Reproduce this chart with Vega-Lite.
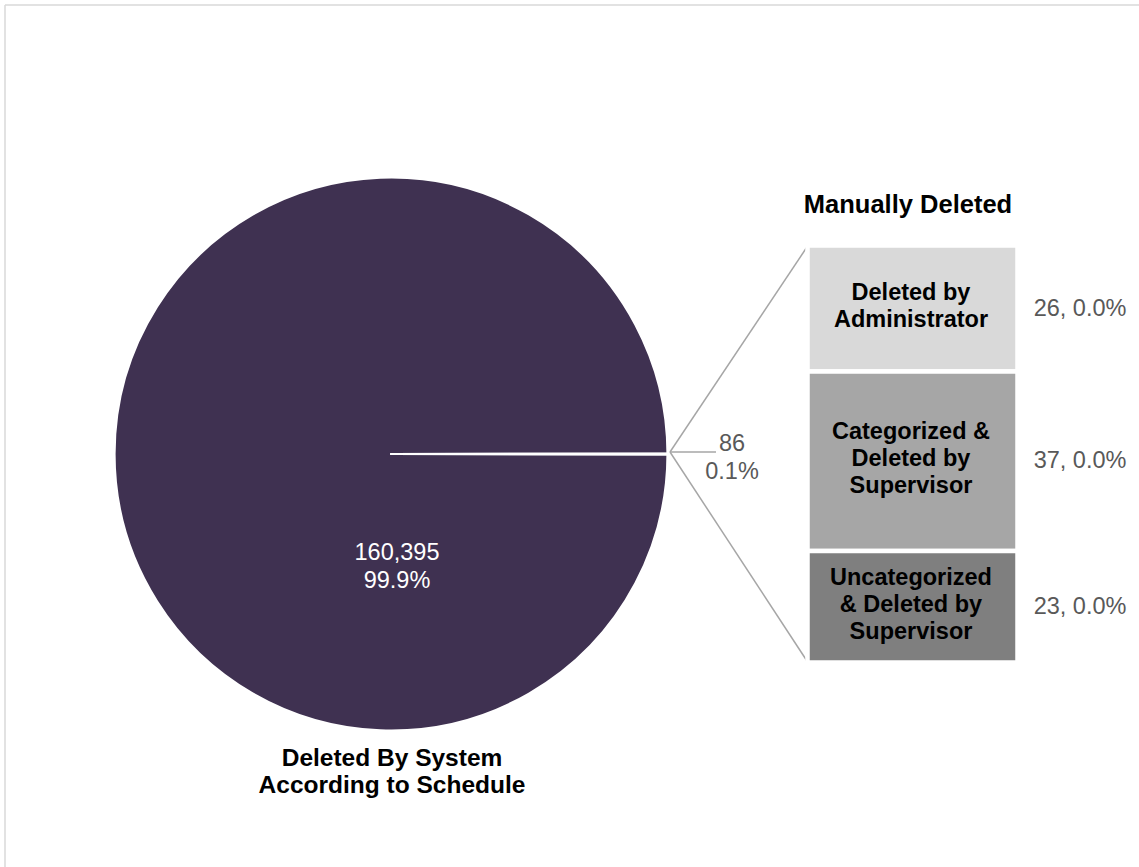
{
  "$schema": "https://vega.github.io/schema/vega-lite/v6.json",
  "width": 1139,
  "height": 867,
  "autosize": "none",
  "padding": 0,
  "background": "white",
  "config": {"view": {"stroke": null}, "font": "Liberation Sans"},
  "resolve": {"scale": {"color": "independent"}},
  "layer": [
    {
      "data": {"values": [{}]},
      "mark": {"type": "rule", "color": "#d9d9d9", "strokeWidth": 1.5},
      "encoding": {"x": {"value": 5}, "y": {"value": 5}, "x2": {"value": 1139}, "y2": {"value": 5}}
    },
    {
      "data": {"values": [{}]},
      "mark": {"type": "rule", "color": "#d9d9d9", "strokeWidth": 1.5},
      "encoding": {"x": {"value": 5}, "y": {"value": 5}, "x2": {"value": 5}, "y2": {"value": 867}}
    },
    {
      "data": {"values": [
        {"group": "Deleted By System According to Schedule", "count": 160395},
        {"group": "Manually Deleted", "count": 86}
      ]},
      "mark": {"type": "arc", "x": 391, "y": 454, "outerRadius": 276.5, "stroke": "white", "strokeWidth": 2.2, "strokeJoin": "round"},
      "encoding": {
        "theta": {"field": "count", "type": "quantitative", "stack": true, "scale": {"range": [1.5691, 7.8523]}},
        "order": {"field": "count", "type": "quantitative", "sort": "ascending"},
        "color": {"field": "group", "type": "nominal", "legend": null,
          "scale": {"domain": ["Deleted By System According to Schedule", "Manually Deleted"], "range": ["#3f3151", "#ffffff"]}}
      }
    },
    {
      "data": {"values": [{}]},
      "mark": {"type": "rule", "color": "#a6a6a6", "strokeWidth": 1.5},
      "encoding": {"x": {"value": 670}, "y": {"value": 452}, "x2": {"value": 807}, "y2": {"value": 247}}
    },
    {
      "data": {"values": [{}]},
      "mark": {"type": "rule", "color": "#a6a6a6", "strokeWidth": 1.5},
      "encoding": {"x": {"value": 670}, "y": {"value": 452}, "x2": {"value": 807}, "y2": {"value": 661}}
    },
    {
      "data": {"values": [{}]},
      "mark": {"type": "rule", "color": "#a6a6a6", "strokeWidth": 1.5},
      "encoding": {"x": {"value": 670}, "y": {"value": 452}, "x2": {"value": 716}, "y2": {"value": 452}}
    },
    {
      "data": {"values": [
        {"category": "Deleted by Administrator", "label": "Deleted by\nAdministrator", "count": 26, "value_label": "26, 0.0%", "rank": 3, "lines": 2},
        {"category": "Categorized & Deleted by Supervisor", "label": "Categorized &\nDeleted by\nSupervisor", "count": 37, "value_label": "37, 0.0%", "rank": 2, "lines": 3},
        {"category": "Uncategorized & Deleted by Supervisor", "label": "Uncategorized\n& Deleted by\nSupervisor", "count": 23, "value_label": "23, 0.0%", "rank": 1, "lines": 3}
      ]},
      "layer": [
        {
          "mark": {"type": "bar", "orient": "vertical", "stroke": "white", "strokeWidth": 4.5},
          "encoding": {
            "x": {"value": 807.5},
            "x2": {"value": 1017.5},
            "y": {"field": "count", "type": "quantitative", "stack": "zero", "axis": null,
              "scale": {"domain": [0, 86], "range": [662.5, 245.5], "nice": false, "zero": true}},
            "order": {"field": "rank", "type": "quantitative"},
            "color": {"field": "category", "type": "nominal", "legend": null,
              "scale": {"domain": ["Deleted by Administrator", "Categorized & Deleted by Supervisor", "Uncategorized & Deleted by Supervisor"], "range": ["#d9d9d9", "#a6a6a6", "#7f7f7f"]}}
          }
        },
        {
          "mark": {"type": "text", "fontWeight": "bold", "fontSize": 23.5, "lineBreak": "\n", "lineHeight": 27, "align": "center", "baseline": "middle", "color": "#000000", "dy": -16},
          "encoding": {
            "x": {"value": 911},
            "y": {"field": "count", "type": "quantitative", "stack": "zero", "bandPosition": 0.5},
            "order": {"field": "rank", "type": "quantitative"},
            "detail": {"field": "category", "type": "nominal"},
            "text": {"condition": {"test": "datum.lines == 2", "field": "label", "type": "nominal"}, "value": ""}
          }
        },
        {
          "mark": {"type": "text", "fontWeight": "bold", "fontSize": 23.5, "lineBreak": "\n", "lineHeight": 27, "align": "center", "baseline": "middle", "color": "#000000", "dy": -29},
          "encoding": {
            "x": {"value": 911},
            "y": {"field": "count", "type": "quantitative", "stack": "zero", "bandPosition": 0.5},
            "order": {"field": "rank", "type": "quantitative"},
            "detail": {"field": "category", "type": "nominal"},
            "text": {"condition": {"test": "datum.lines == 3", "field": "label", "type": "nominal"}, "value": ""}
          }
        },
        {
          "mark": {"type": "text", "fontSize": 23.5, "align": "center", "baseline": "middle", "color": "#595959"},
          "encoding": {
            "x": {"value": 1080},
            "y": {"field": "count", "type": "quantitative", "stack": "zero", "bandPosition": 0.5},
            "order": {"field": "rank", "type": "quantitative"},
            "detail": {"field": "category", "type": "nominal"},
            "text": {"field": "value_label", "type": "nominal"}
          }
        }
      ]
    },
    {
      "data": {"values": [
        {"text": "160,395\n99.9%", "kind": "pie_value"}
      ]},
      "mark": {"type": "text", "x": 397, "y": 553, "fontSize": 23.5, "lineBreak": "\n", "lineHeight": 28, "align": "center", "baseline": "middle", "color": "#ffffff"},
      "encoding": {"text": {"field": "text", "type": "nominal"}}
    },
    {
      "data": {"values": [
        {"text": "86\n0.1%", "kind": "other_value"}
      ]},
      "mark": {"type": "text", "x": 732, "y": 444, "fontSize": 23.5, "lineBreak": "\n", "lineHeight": 28, "align": "center", "baseline": "middle", "color": "#595959"},
      "encoding": {"text": {"field": "text", "type": "nominal"}}
    },
    {
      "data": {"values": [
        {"text": "Deleted By System\nAccording to Schedule", "kind": "pie_label"}
      ]},
      "mark": {"type": "text", "x": 392, "y": 759, "fontSize": 24.5, "fontWeight": "bold", "lineBreak": "\n", "lineHeight": 27, "align": "center", "baseline": "middle", "color": "#000000"},
      "encoding": {"text": {"field": "text", "type": "nominal"}}
    },
    {
      "data": {"values": [
        {"text": "Manually Deleted", "kind": "bar_title"}
      ]},
      "mark": {"type": "text", "x": 908, "y": 205, "fontSize": 25.5, "fontWeight": "bold", "align": "center", "baseline": "middle", "color": "#000000"},
      "encoding": {"text": {"field": "text", "type": "nominal"}}
    }
  ]
}
